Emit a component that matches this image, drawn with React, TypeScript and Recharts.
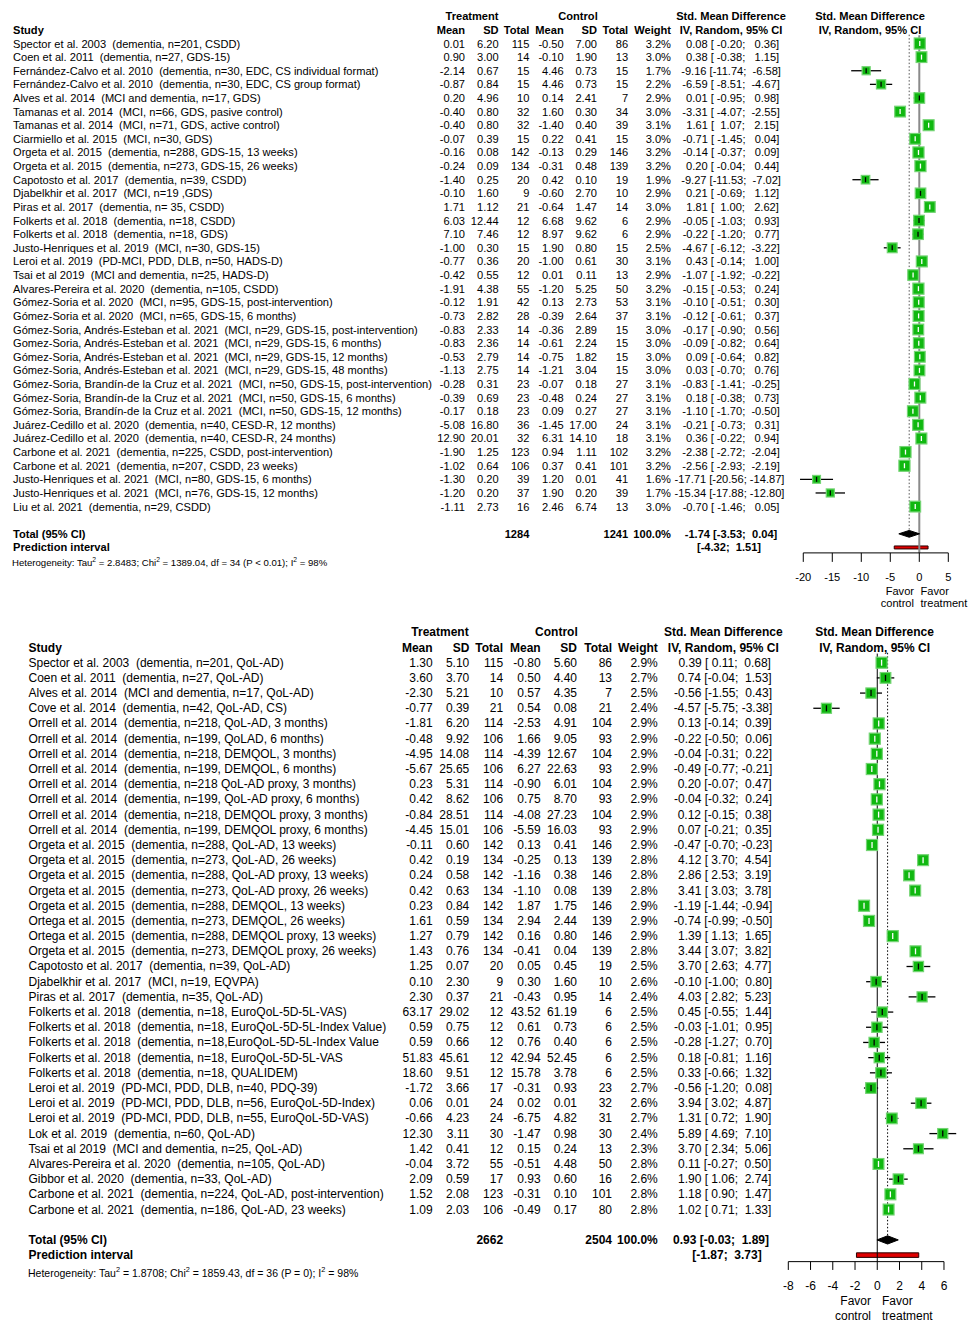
import React from 'react'
import { ScatterChart, Scatter, XAxis, YAxis, ErrorBar, ReferenceLine, ReferenceArea } from 'recharts'

const FONT = '"Liberation Sans", Arial, Helvetica, sans-serif'
const GREEN = '#10B810'
const GREEN_EDGE = '#74D474'

// ---------- upper plot: depression ----------
const depStudy = [
  'Spector et al. 2003  (dementia, n=201, CSDD)',
  'Coen et al. 2011  (dementia, n=27, GDS-15)',
  'Fernández-Calvo et al. 2010  (dementia, n=30, EDC, CS individual format)',
  'Fernández-Calvo et al. 2010  (dementia, n=30, EDC, CS group format)',
  'Alves et al. 2014  (MCI and dementia, n=17, GDS)',
  'Tamanas et al. 2014  (MCI, n=66, GDS, pasive control)',
  'Tamanas et al. 2014  (MCI, n=71, GDS, active control)',
  'Ciarmiello et al. 2015  (MCI, n=30, GDS)',
  'Orgeta et al. 2015  (dementia, n=288, GDS-15, 13 weeks)',
  'Orgeta et al. 2015  (dementia, n=273, GDS-15, 26 weeks)',
  'Capotosto et al. 2017  (dementia, n=39, CSDD)',
  'Djabelkhir et al. 2017  (MCI, n=19 ,GDS)',
  'Piras et al. 2017  (dementia, n= 35, CSDD)',
  'Folkerts et al. 2018  (dementia, n=18, CSDD)',
  'Folkerts et al. 2018  (dementia, n=18, GDS)',
  'Justo-Henriques et al. 2019  (MCI, n=30, GDS-15)',
  'Leroi et al. 2019  (PD-MCI, PDD, DLB, n=50, HADS-D)',
  'Tsai et al 2019  (MCI and dementia, n=25, HADS-D)',
  'Alvares-Pereira et al. 2020  (dementia, n=105, CSDD)',
  'Gómez-Soria et al. 2020  (MCI, n=95, GDS-15, post-intervention)',
  'Gómez-Soria et al. 2020  (MCI, n=65, GDS-15, 6 months)',
  'Gómez-Soria, Andrés-Esteban et al. 2021  (MCI, n=29, GDS-15, post-intervention)',
  'Gomez-Soria, Andrés-Esteban et al. 2021  (MCI, n=29, GDS-15, 6 months)',
  'Gómez-Soria, Andrés-Esteban et al. 2021  (MCI, n=29, GDS-15, 12 months)',
  'Gómez-Soria, Andrés-Esteban et al. 2021  (MCI, n=29, GDS-15, 48 months)',
  'Gómez-Soria, Brandín-de la Cruz et al. 2021  (MCI, n=50, GDS-15, post-intervention)',
  'Gómez-Soria, Brandín-de la Cruz et al. 2021  (MCI, n=50, GDS-15, 6 months)',
  'Gómez-Soria, Brandín-de la Cruz et al. 2021  (MCI, n=50, GDS-15, 12 months)',
  'Juárez-Cedillo et al. 2020  (dementia, n=40, CESD-R, 12 months)',
  'Juárez-Cedillo et al. 2020  (dementia, n=40, CESD-R, 24 months)',
  'Carbone et al. 2021  (dementia, n=225, CSDD, post-intervention)',
  'Carbone et al. 2021  (dementia, n=207, CSDD, 23 weeks)',
  'Justo-Henriques et al. 2021  (MCI, n=80, GDS-15, 6 months)',
  'Justo-Henriques et al. 2021  (MCI, n=76, GDS-15, 12 months)',
  'Liu et al. 2021  (dementia, n=29, CSDD)',
]
const depTreatMean = [0.01, 0.9, -2.14, -0.87, 0.2, -0.4, -0.4, -0.07, -0.16, -0.24, -1.4, -0.1, 1.71, 6.03, 7.1, -1.0, -0.77, -0.42, -1.91, -0.12, -0.73, -0.83, -0.83, -0.53, -1.13, -0.28, -0.39, -0.17, -5.08, 12.9, -1.9, -1.02, -1.3, -1.2, -1.11]
const depTreatSD = [6.2, 3.0, 0.67, 0.84, 4.96, 0.8, 0.8, 0.39, 0.08, 0.09, 0.25, 1.6, 1.12, 12.44, 7.46, 0.3, 0.36, 0.55, 4.38, 1.91, 2.82, 2.33, 2.36, 2.79, 2.75, 0.31, 0.69, 0.18, 16.8, 20.01, 1.25, 0.64, 0.2, 0.2, 2.73]
const depTreatN = [115, 14, 15, 15, 10, 32, 32, 15, 142, 134, 20, 9, 21, 12, 12, 15, 20, 12, 55, 42, 28, 14, 14, 14, 14, 23, 23, 23, 36, 32, 123, 106, 39, 37, 16]
const depCtrlMean = [-0.5, -0.1, 4.46, 4.46, 0.14, 1.6, -1.4, 0.22, -0.13, -0.31, 0.42, -0.6, -0.64, 6.68, 8.97, 1.9, -1.0, 0.01, -1.2, 0.13, -0.39, -0.36, -0.61, -0.75, -1.21, -0.07, -0.48, 0.09, -1.45, 6.31, 0.94, 0.37, 1.2, 1.9, 2.46]
const depCtrlSD = [7.0, 1.9, 0.73, 0.73, 2.41, 0.3, 0.4, 0.41, 0.29, 0.48, 0.1, 2.7, 1.47, 9.62, 9.62, 0.8, 0.61, 0.11, 5.25, 2.73, 2.64, 2.89, 2.24, 1.82, 3.04, 0.18, 0.24, 0.27, 17.0, 14.1, 1.11, 0.41, 0.01, 0.2, 6.74]
const depCtrlN = [86, 13, 15, 15, 7, 34, 39, 15, 146, 139, 19, 10, 14, 6, 6, 15, 30, 13, 50, 53, 37, 15, 15, 15, 15, 27, 27, 27, 24, 18, 102, 101, 41, 39, 13]
const depWeight = [3.2, 3.0, 1.7, 2.2, 2.9, 3.0, 3.1, 3.0, 3.2, 3.2, 1.9, 2.9, 3.0, 2.9, 2.9, 2.5, 3.1, 2.9, 3.2, 3.1, 3.1, 3.0, 3.0, 3.0, 3.0, 3.1, 3.1, 3.1, 3.1, 3.1, 3.2, 3.2, 1.6, 1.7, 3.0]
const depSMD = [0.08, 0.38, -9.16, -6.59, 0.01, -3.31, 1.61, -0.71, -0.14, 0.2, -9.27, 0.21, 1.81, -0.05, -0.22, -4.67, 0.43, -1.07, -0.15, -0.1, -0.12, -0.17, -0.09, 0.09, 0.03, -0.83, 0.18, -1.1, -0.21, 0.36, -2.38, -2.56, -17.71, -15.34, -0.7]
const depLower = [-0.2, -0.38, -11.74, -8.51, -0.95, -4.07, 1.07, -1.45, -0.37, -0.04, -11.53, -0.69, 1.0, -1.03, -1.2, -6.12, -0.14, -1.92, -0.53, -0.51, -0.61, -0.9, -0.82, -0.64, -0.7, -1.41, -0.38, -1.7, -0.73, -0.22, -2.72, -2.93, -20.56, -17.88, -1.46]
const depUpper = [0.36, 1.15, -6.58, -4.67, 0.98, -2.55, 2.15, 0.04, 0.09, 0.44, -7.02, 1.12, 2.62, 0.93, 0.77, -3.22, 1.0, -0.22, 0.24, 0.3, 0.37, 0.56, 0.64, 0.82, 0.76, -0.25, 0.73, -0.5, 0.31, 0.94, -2.04, -2.19, -14.87, -12.8, 0.05]
const depPooled = [-1.74, -3.53, 0.04]
const depPredict = [-4.32, 1.51]
const depTotals = [1284, 1241]
const depHet = [2.8483, 1389.04, 34, 98]
const depHetP = '< 0.01'
const depTicks = [-20, -15, -10, -5, 0, 5]

// ---------- lower plot: quality of life ----------
const qolStudy = [
  'Spector et al. 2003  (dementia, n=201, QoL-AD)',
  'Coen et al. 2011  (dementia, n=27, QoL-AD)',
  'Alves et al. 2014  (MCI and dementia, n=17, QoL-AD)',
  'Cove et al. 2014  (dementia, n=42, QoL-AD, CS)',
  'Orrell et al. 2014  (dementia, n=218, QoL-AD, 3 months)',
  'Orrell et al. 2014  (dementia, n=199, QoLAD, 6 months)',
  'Orrell et al. 2014  (dementia, n=218, DEMQOL, 3 months)',
  'Orrell et al. 2014  (dementia, n=199, DEMQOL, 6 months)',
  'Orrell et al. 2014  (dementia, n=218 QoL-AD proxy, 3 months)',
  'Orrell et al. 2014  (dementia, n=199, QoL-AD proxy, 6 months)',
  'Orrell et al. 2014  (dementia, n=218, DEMQOL proxy, 3 months)',
  'Orrell et al. 2014  (dementia, n=199, DEMQOL proxy, 6 months)',
  'Orgeta et al. 2015  (dementia, n=288, QoL-AD, 13 weeks)',
  'Orgeta et al. 2015  (dementia, n=273, QoL-AD, 26 weeks)',
  'Orgeta et al. 2015  (dementia, n=288, QoL-AD proxy, 13 weeks)',
  'Orgeta et al. 2015  (dementia, n=273, QoL-AD proxy, 26 weeks)',
  'Orgeta et al. 2015  (dementia, n=288, DEMQOL, 13 weeks)',
  'Ortega et al. 2015  (dementia, n=273, DEMQOL, 26 weeks)',
  'Ortega et al. 2015  (dementia, n=288, DEMQOL proxy, 13 weeks)',
  'Orgeta et al. 2015  (dementia, n=273, DEMQOL proxy, 26 weeks)',
  'Capotosto et al. 2017  (dementia, n=39, QoL-AD)',
  'Djabelkhir et al. 2017  (MCI, n=19, EQVPA)',
  'Piras et al. 2017  (dementia, n=35, QoL-AD)',
  'Folkerts et al. 2018  (dementia, n=18, EuroQoL-5D-5L-VAS)',
  'Folkerts et al. 2018  (dementia, n=18, EuroQoL-5D-5L-Index Value)',
  'Folkerts et al. 2018  (dementia, n=18,EuroQoL-5D-5L-Index Value',
  'Folkerts et al. 2018  (dementia, n=18, EuroQoL-5D-5L-VAS',
  'Folkerts et al. 2018  (dementia, n=18, QUALIDEM)',
  'Leroi et al. 2019  (PD-MCI, PDD, DLB, n=40, PDQ-39)',
  'Leroi et al. 2019  (PD-MCI, PDD, DLB, n=56, EuroQoL-5D-Index)',
  'Leroi et al. 2019  (PD-MCI, PDD, DLB, n=55, EuroQoL-5D-VAS)',
  'Lok et al. 2019  (dementia, n=60, QoL-AD)',
  'Tsai et al 2019  (MCI and dementia, n=25, QoL-AD)',
  'Alvares-Pereira et al. 2020  (dementia, n=105, QoL-AD)',
  'Gibbor et al. 2020  (dementia, n=33, QoL-AD)',
  'Carbone et al. 2021  (dementia, n=224, QoL-AD, post-intervention)',
  'Carbone et al. 2021  (dementia, n=186, QoL-AD, 23 weeks)',
]
const qolTreatMean = [1.3, 3.6, -2.3, -0.77, -1.81, -0.48, -4.95, -5.67, 0.23, 0.42, -0.84, -4.45, -0.11, 0.42, 0.24, 0.42, 0.23, 1.61, 1.27, 1.43, 1.25, 0.1, 2.3, 63.17, 0.59, 0.59, 51.83, 18.6, -1.72, 0.06, -0.66, 12.3, 1.42, -0.04, 2.09, 1.52, 1.09]
const qolTreatSD = [5.1, 3.7, 5.21, 0.39, 6.2, 9.92, 14.08, 25.65, 5.31, 8.62, 28.51, 15.01, 0.6, 0.19, 0.58, 0.63, 0.84, 0.59, 0.79, 0.76, 0.07, 2.3, 0.37, 29.02, 0.75, 0.66, 45.61, 9.51, 3.66, 0.01, 4.23, 3.11, 0.41, 3.72, 0.59, 2.08, 2.03]
const qolTreatN = [115, 14, 10, 21, 114, 106, 114, 106, 114, 106, 114, 106, 142, 134, 142, 134, 142, 134, 142, 134, 20, 9, 21, 12, 12, 12, 12, 12, 17, 24, 24, 30, 12, 55, 17, 123, 106]
const qolCtrlMean = [-0.8, 0.5, 0.57, 0.54, -2.53, 1.66, -4.39, 6.27, -0.9, 0.75, -4.08, -5.59, 0.13, -0.25, -1.16, -1.1, 1.87, 2.94, 0.16, -0.41, 0.05, 0.3, -0.43, 43.52, 0.61, 0.76, 42.94, 15.78, -0.31, 0.02, -6.75, -1.47, 0.15, -0.51, 0.93, -0.31, -0.49]
const qolCtrlSD = [5.6, 4.4, 4.35, 0.08, 4.91, 9.05, 12.67, 22.63, 6.01, 8.7, 27.23, 16.03, 0.41, 0.13, 0.38, 0.08, 1.75, 2.44, 0.8, 0.04, 0.45, 1.6, 0.95, 61.19, 0.73, 0.4, 52.45, 3.78, 0.93, 0.01, 4.82, 0.98, 0.24, 4.48, 0.6, 0.1, 0.17]
const qolCtrlN = [86, 13, 7, 21, 104, 93, 104, 93, 104, 93, 104, 93, 146, 139, 146, 139, 146, 139, 146, 139, 19, 10, 14, 6, 6, 6, 6, 6, 23, 32, 31, 30, 13, 50, 16, 101, 80]
const qolWeight = [2.9, 2.7, 2.5, 2.4, 2.9, 2.9, 2.9, 2.9, 2.9, 2.9, 2.9, 2.9, 2.9, 2.8, 2.8, 2.8, 2.9, 2.9, 2.9, 2.8, 2.5, 2.6, 2.4, 2.5, 2.5, 2.5, 2.5, 2.5, 2.7, 2.6, 2.7, 2.4, 2.3, 2.8, 2.6, 2.8, 2.8]
const qolSMD = [0.39, 0.74, -0.56, -4.57, 0.13, -0.22, -0.04, -0.49, 0.2, -0.04, 0.12, 0.07, -0.47, 4.12, 2.86, 3.41, -1.19, -0.74, 1.39, 3.44, 3.7, -0.1, 4.03, 0.45, -0.03, -0.28, 0.18, 0.33, -0.56, 3.94, 1.31, 5.89, 3.7, 0.11, 1.9, 1.18, 1.02]
const qolLower = [0.11, -0.04, -1.55, -5.75, -0.14, -0.5, -0.31, -0.77, -0.07, -0.32, -0.15, -0.21, -0.7, 3.7, 2.53, 3.03, -1.44, -0.99, 1.13, 3.07, 2.63, -1.0, 2.82, -0.55, -1.01, -1.27, -0.81, -0.66, -1.2, 3.02, 0.72, 4.69, 2.34, -0.27, 1.06, 0.9, 0.71]
const qolUpper = [0.68, 1.53, 0.43, -3.38, 0.39, 0.06, 0.22, -0.21, 0.47, 0.24, 0.38, 0.35, -0.23, 4.54, 3.19, 3.78, -0.94, -0.5, 1.65, 3.82, 4.77, 0.8, 5.23, 1.44, 0.95, 0.7, 1.16, 1.32, 0.08, 4.87, 1.9, 7.1, 5.06, 0.5, 2.74, 1.47, 1.33]
const qolPooled = [0.93, -0.03, 1.89]
const qolPredict = [-1.87, 3.73]
const qolTotals = [2662, 2504]
const qolHet = [1.8708, 1859.43, 36, 98]
const qolHetP = '= 0'
const qolTicks = [-8, -6, -4, -2, 0, 2, 4, 6]

type Row = {
  name: string; tm: number; tsd: number; tn: number; cm: number; csd: number; cn: number
  w: number; x: number; lo: number; hi: number; y: number; ex: [number, number]
}

const buildRows = (
  names: string[], tm: number[], tsd: number[], tn: number[], cm: number[], csd: number[], cn: number[],
  w: number[], est: number[], lo: number[], hi: number[],
): Row[] =>
  names.map((name, i) => ({
    name, tm: tm[i], tsd: tsd[i], tn: tn[i], cm: cm[i], csd: csd[i], cn: cn[i],
    w: w[i], x: est[i], lo: lo[i], hi: hi[i], y: i, ex: [est[i] - lo[i], hi[i] - est[i]],
  }))

type Layout = {
  top: number; height: number
  xDomain: [number, number]; yDomain: [number, number]
  margin: { top: number; right: number; bottom: number; left: number }
  yAxisWidth: number
  font: number; hetFont: number
  k: number; pxPerUnit: number; tickH: number
  zeroColor: string; zeroWidth: number; dotColor: string
  cols: Record<string, number>
  tickSize: number; tickLabelY: number
  hetX: number; hetY: number
  favorY: [number, number]; favorL: number; favorR: number
  diamondHalf: number; predHalf: number
}

const depLayout: Layout = {
  top: 0, height: 615,
  xDomain: [-20.6, 5], yDomain: [-2.5, 37.4],
  margin: { top: 9.45, right: 19.7, bottom: 32.1, left: 0 },
  yAxisWidth: 799.8,
  font: 11.1, hetFont: 9.6,
  k: 6.2, pxPerUnit: 5.8, tickH: 5,
  zeroColor: '#8a8a8a', zeroWidth: 2, dotColor: '#555',
  cols: {
    name: 13, tm: 465, tsd: 498.6, tn: 529.4, cm: 563.7, csd: 597, cn: 628.2, w: 671,
    ci: 729.5, ciTot: 731, ciPred: 729, treat: 472, ctrl: 578, smd: 731, plot: 870,
  },
  tickSize: 9, tickLabelY: 577,
  hetX: 12, hetY: 563,
  favorY: [591, 603], favorL: 914, favorR: 920.5,
  diamondHalf: 0.25, predHalf: 0.11,
}

const qolLayout: Layout = {
  top: 615, height: 707,
  xDomain: [-8, 7.15], yDomain: [-2.5, 39.43],
  margin: { top: 9.725, right: 11.23, bottom: 30.36, left: 0 },
  yAxisWidth: 788.3,
  font: 12, hetFont: 10.5,
  k: 6.5, pxPerUnit: 11.12, tickH: 6,
  zeroColor: '#000', zeroWidth: 1, dotColor: '#000',
  cols: {
    name: 28.5, tm: 432.6, tsd: 469.3, tn: 503.1, cm: 540.7, csd: 577, cn: 612, w: 657.8,
    ci: 723, ciTot: 721, ciPred: 727, treat: 440, ctrl: 556.4, smd: 723.3, plot: 874.6,
  },
  tickSize: 8.3, tickLabelY: 671,
  hetX: 28, hetY: 658,
  favorY: [686, 701], favorL: 871, favorR: 882,
  diamondHalf: 0.27, predHalf: 0.15,
}

const f2 = (v: number) => v.toFixed(2)
const maxLen = (vals: number[]) => Math.max(...vals.map((v) => f2(v).length))

const Txt = ({ x, y, size, anchor = 'end', bold = false, children }: any) => (
  <text
    x={x}
    y={y}
    textAnchor={anchor}
    dominantBaseline='central'
    fontFamily={FONT}
    fontSize={size}
    fontWeight={bold ? 'bold' : 'normal'}
    fill='#000'
    xmlSpace='preserve'
    style={{ whiteSpace: 'pre' }}
  >
    {children}
  </text>
)

type PanelProps = {
  rows: Row[]; pooled: number[]; predict: number[]; totals: number[]
  het: number[]; hetP: string; ticks: number[]; L: Layout
}

const ForestPanel = ({ rows, pooled, predict, totals, het, hetP, ticks, L }: PanelProps) => {
  const n = rows.length
  const totalRow = n + 1
  const predRow = n + 2
  const yTicks = [-2, -1, ...rows.map((r) => r.y), totalRow, predRow]
  const c = L.cols
  const fs = L.font

  // padded like R's meta output: "est [lower; upper]"
  const estW = maxLen(rows.map((r) => r.x))
  const loW = maxLen(rows.map((r) => r.lo))
  const hiW = maxLen(rows.map((r) => r.hi))
  const ciText = (r: Row) =>
    `${f2(r.x).padStart(estW)} [${f2(r.lo).padStart(loW)}; ${f2(r.hi).padStart(hiW)}]`
  const pairW = (a: number, b: number) => Math.max(f2(a).length, f2(b).length)
  const pw = pairW(pooled[1], pooled[2])
  const totalCi = `${f2(pooled[0])} [${f2(pooled[1]).padStart(pw)}; ${f2(pooled[2]).padStart(pw)}]`
  const qw = pairW(predict[0], predict[1])
  const predCi = `[${f2(predict[0]).padStart(qw)}; ${f2(predict[1]).padStart(qw)}]`

  // CI drawn white when it fits inside the square, black otherwise
  const sq = (w: number) => L.k * Math.sqrt(w)
  const fits = (r: Row) => (r.hi - r.lo) * L.pxPerUnit < sq(r.w) - 0.5
  const insideRows = rows.filter(fits)
  const outsideRows = rows.filter((r) => !fits(r))

  const diamond = [
    { x: pooled[1], y: totalRow },
    { x: pooled[0], y: totalRow - L.diamondHalf },
    { x: pooled[2], y: totalRow },
    { x: pooled[0], y: totalRow + L.diamondHalf },
    { x: pooled[1], y: totalRow },
  ]

  const renderRow = (props: any) => {
    const { y, payload } = props
    const v = payload.value
    if (v === -2) {
      return (
        <g>
          <Txt x={c.treat} y={y} size={fs} anchor='middle' bold>Treatment</Txt>
          <Txt x={c.ctrl} y={y} size={fs} anchor='middle' bold>Control</Txt>
          <Txt x={c.smd} y={y} size={fs} anchor='middle' bold>Std. Mean Difference</Txt>
          <Txt x={c.plot} y={y} size={fs} anchor='middle' bold>Std. Mean Difference</Txt>
        </g>
      )
    }
    if (v === -1) {
      return (
        <g>
          <Txt x={c.name} y={y} size={fs} anchor='start' bold>Study</Txt>
          <Txt x={c.tm} y={y} size={fs} bold>Mean</Txt>
          <Txt x={c.tsd} y={y} size={fs} bold>SD</Txt>
          <Txt x={c.tn} y={y} size={fs} bold>Total</Txt>
          <Txt x={c.cm} y={y} size={fs} bold>Mean</Txt>
          <Txt x={c.csd} y={y} size={fs} bold>SD</Txt>
          <Txt x={c.cn} y={y} size={fs} bold>Total</Txt>
          <Txt x={c.w} y={y} size={fs} bold>Weight</Txt>
          <Txt x={c.smd} y={y} size={fs} anchor='middle' bold>IV, Random, 95% CI</Txt>
          <Txt x={c.plot} y={y} size={fs} anchor='middle' bold>IV, Random, 95% CI</Txt>
        </g>
      )
    }
    if (v === totalRow) {
      return (
        <g>
          <Txt x={c.name} y={y} size={fs} anchor='start' bold>Total (95% CI)</Txt>
          <Txt x={c.tn} y={y} size={fs} bold>{totals[0]}</Txt>
          <Txt x={c.cn} y={y} size={fs} bold>{totals[1]}</Txt>
          <Txt x={c.w} y={y} size={fs} bold>100.0%</Txt>
          <Txt x={c.ciTot} y={y} size={fs} anchor='middle' bold>{totalCi}</Txt>
        </g>
      )
    }
    if (v === predRow) {
      return (
        <g>
          <Txt x={c.name} y={y} size={fs} anchor='start' bold>Prediction interval</Txt>
          <Txt x={c.ciPred} y={y} size={fs} anchor='middle' bold>{predCi}</Txt>
        </g>
      )
    }
    const r = rows[v]
    if (!r) return <g />
    return (
      <g>
        <Txt x={c.name} y={y} size={fs} anchor='start'>{r.name}</Txt>
        <Txt x={c.tm} y={y} size={fs}>{f2(r.tm)}</Txt>
        <Txt x={c.tsd} y={y} size={fs}>{f2(r.tsd)}</Txt>
        <Txt x={c.tn} y={y} size={fs}>{r.tn}</Txt>
        <Txt x={c.cm} y={y} size={fs}>{f2(r.cm)}</Txt>
        <Txt x={c.csd} y={y} size={fs}>{f2(r.csd)}</Txt>
        <Txt x={c.cn} y={y} size={fs}>{r.cn}</Txt>
        <Txt x={c.w} y={y} size={fs}>{r.w.toFixed(1) + '%'}</Txt>
        <Txt x={c.ci} y={y} size={fs} anchor='middle'>{ciText(r)}</Txt>
      </g>
    )
  }

  const renderAxisTick = (props: any) => (
    <Txt x={props.x} y={L.tickLabelY} size={fs} anchor='middle'>{props.payload.value}</Txt>
  )

  const hf = L.hetFont
  const sup = hf * 0.42
  const renderFooter = () => (
    <g>
      <text x={L.hetX} y={L.hetY + hf * 0.35} fontFamily={FONT} fontSize={hf} fill='#000'>
        {'Heterogeneity: Tau'}
        <tspan dy={-sup} fontSize={hf * 0.7}>2</tspan>
        <tspan dy={sup}>{` = ${het[0].toFixed(4)}; Chi`}</tspan>
        <tspan dy={-sup} fontSize={hf * 0.7}>2</tspan>
        <tspan dy={sup}>{` = ${het[1].toFixed(2)}, df = ${het[2]} (P ${hetP}); I`}</tspan>
        <tspan dy={-sup} fontSize={hf * 0.7}>2</tspan>
        <tspan dy={sup}>{` = ${het[3]}%`}</tspan>
      </text>
      <Txt x={L.favorL} y={L.favorY[0]} size={fs}>Favor</Txt>
      <Txt x={L.favorL} y={L.favorY[1]} size={fs}>control</Txt>
      <Txt x={L.favorR} y={L.favorY[0]} size={fs} anchor='start'>Favor</Txt>
      <Txt x={L.favorR} y={L.favorY[1]} size={fs} anchor='start'>treatment</Txt>
    </g>
  )

  const axisY = L.yDomain[1]
  const tickMin = ticks[0]
  const tickMax = ticks[ticks.length - 1]

  const square = (props: any) => {
    const { cx, cy, payload } = props
    const s = sq(payload.w)
    return (
      <rect x={cx - s / 2} y={cy - s / 2} width={s} height={s} fill={GREEN} stroke={GREEN_EDGE} strokeWidth={1.2} />
    )
  }
  const centerMark = (color: string) => (props: any) => (
    <line x1={props.cx} x2={props.cx} y1={props.cy - L.tickH / 2} y2={props.cy + L.tickH / 2} stroke={color} strokeWidth={1.3} />
  )

  return (
    <div style={{ position: 'absolute', left: 0, top: L.top }}>
      <ScatterChart width={968} height={L.height} margin={L.margin}>
        <XAxis
          type='number'
          dataKey='x'
          domain={L.xDomain}
          ticks={ticks}
          interval={0}
          axisLine={false}
          tickLine={{ stroke: '#000', strokeWidth: 1 }}
          tickSize={L.tickSize}
          tick={renderAxisTick}
          height={30}
          label={renderFooter}
        />
        <YAxis
          type='number'
          dataKey='y'
          domain={L.yDomain}
          reversed
          ticks={yTicks}
          interval={0}
          width={L.yAxisWidth}
          axisLine={false}
          tickLine={false}
          tick={renderRow}
        />
        <ReferenceLine
          segment={[{ x: 0, y: -0.6 }, { x: 0, y: axisY }]}
          stroke={L.zeroColor}
          strokeWidth={L.zeroWidth}
          ifOverflow='visible'
        />
        <ReferenceLine
          segment={[{ x: pooled[0], y: -0.65 }, { x: pooled[0], y: totalRow - L.diamondHalf }]}
          stroke={L.dotColor}
          strokeWidth={1}
          strokeDasharray='1.5 2'
          ifOverflow='visible'
        />
        <ReferenceLine
          segment={[{ x: tickMin, y: axisY }, { x: tickMax, y: axisY }]}
          stroke='#000'
          strokeWidth={1}
          ifOverflow='visible'
        />
        <ReferenceArea
          x1={predict[0]}
          x2={predict[1]}
          y1={predRow - L.predHalf}
          y2={predRow + L.predHalf}
          fill='#E00000'
          fillOpacity={1}
          stroke='#2a0000'
          strokeWidth={1}
          ifOverflow='visible'
        />
        <Scatter data={rows} shape={square} isAnimationActive={false} />
        <Scatter data={outsideRows} shape={centerMark('#000')} isAnimationActive={false}>
          <ErrorBar dataKey='ex' direction='x' width={0} stroke='#000' strokeWidth={1.3} isAnimationActive={false} />
        </Scatter>
        <Scatter data={insideRows} shape={centerMark('#fff')} isAnimationActive={false}>
          <ErrorBar dataKey='ex' direction='x' width={0} stroke='#fff' strokeWidth={1.3} isAnimationActive={false} />
        </Scatter>
        <Scatter
          data={diamond}
          fill='#000'
          line={{ stroke: '#000', strokeWidth: 1, fill: '#000' }}
          lineType='joint'
          shape={() => <g />}
          isAnimationActive={false}
        />
      </ScatterChart>
    </div>
  )
}

const depRows = buildRows(depStudy, depTreatMean, depTreatSD, depTreatN, depCtrlMean, depCtrlSD, depCtrlN, depWeight, depSMD, depLower, depUpper)
const qolRows = buildRows(qolStudy, qolTreatMean, qolTreatSD, qolTreatN, qolCtrlMean, qolCtrlSD, qolCtrlN, qolWeight, qolSMD, qolLower, qolUpper)

const App = () => {
  return (
    <div style={{ position: 'absolute', left: 0, top: 0, width: 968, height: 1322, background: '#fff', overflow: 'hidden' }}>
      <ForestPanel rows={depRows} pooled={depPooled} predict={depPredict} totals={depTotals} het={depHet} hetP={depHetP} ticks={depTicks} L={depLayout} />
      <ForestPanel rows={qolRows} pooled={qolPooled} predict={qolPredict} totals={qolTotals} het={qolHet} hetP={qolHetP} ticks={qolTicks} L={qolLayout} />
    </div>
  )
}

export default App
